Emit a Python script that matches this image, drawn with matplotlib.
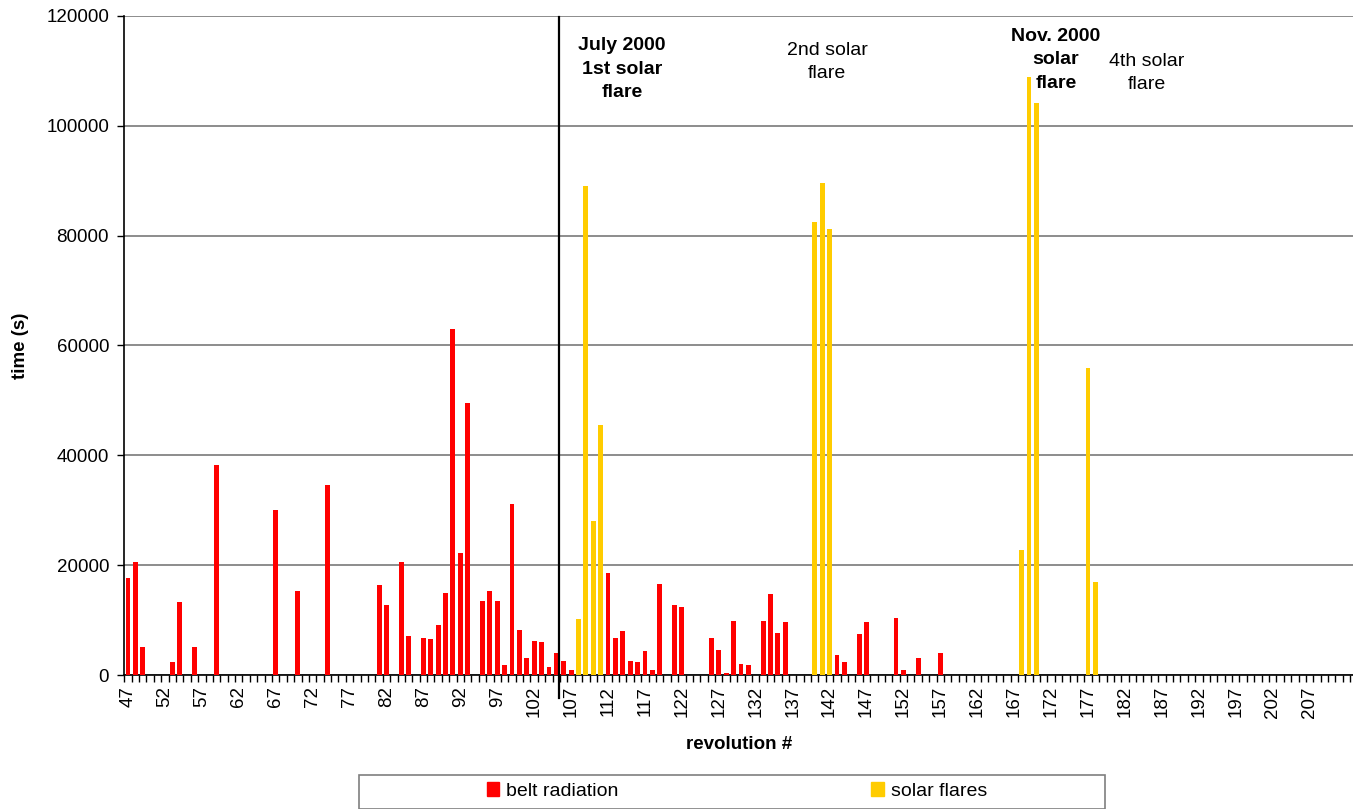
import matplotlib
matplotlib.use("Agg")
import matplotlib.pyplot as plt
from matplotlib.patches import Rectangle, Patch
from matplotlib.ticker import MultipleLocator, FixedLocator

plt.rcParams['font.family'] = ['Liberation Sans', 'DejaVu Sans']

# ---- data ----
first_rev = 47
last_rev = 212
tick_revs = list(range(47, 208, 5))

belt_revs = [47, 48, 49, 53, 54, 56, 59, 67, 70, 74, 81, 82, 84, 85, 87, 88, 89, 90,
             91, 92, 93, 95, 96, 97, 98, 99, 100, 101, 102, 103, 104, 105, 106, 107,
             112, 113, 114, 115, 116, 117, 118, 119, 121, 122, 126, 127, 128, 129,
             130, 131, 133, 134, 135, 136, 143, 144, 146, 147, 151, 152, 154, 157]
belt_vals = [17700, 20600, 5100, 2300, 13300, 5100, 38300, 30000, 15300, 34600,
             16400, 12750, 20600, 7100, 6700, 6550, 9100, 14900,
             63000, 22200, 49500, 13500, 15300, 13500, 1800, 31100, 8200, 3100, 6200,
             6000, 1450, 4000, 2550, 900,
             18600, 6700, 8000, 2550, 2350, 4400, 900, 16600, 12750, 12400, 6700,
             4550, 400, 9800, 2000, 1800, 9800, 14750, 7650, 9650, 3650, 2400,
             7450, 9650, 10400, 900, 3100, 4000]

flare_revs = [108, 109, 110, 111, 140, 141, 142, 168, 169, 170, 177, 178]
flare_vals = [10200, 89100, 28000, 45500, 82500, 89600, 81200, 22800, 108900,
              104200, 55900, 16900]

marker_rev = 105.3

W, H = 1353, 809
fig = plt.figure(figsize=(W / 100, H / 100), dpi=100)
ax_left, ax_right, ax_top, ax_bottom = 124.3, 1353, 16, 675
ax = fig.add_axes([ax_left / W, (H - ax_bottom) / H,
                   (ax_right - ax_left) / W, (ax_bottom - ax_top) / H])

bw = 0.66
ax.bar(belt_revs, belt_vals, width=bw, color='#FF0000', zorder=3, label='belt radiation')
ax.bar(flare_revs, flare_vals, width=bw, color='#FFCC00', zorder=3, label='solar flares')

n_cats = (ax_right - ax_left) / 7.385
ax.set_xlim(first_rev - 0.5, first_rev - 0.5 + n_cats)
ax.set_ylim(0, 120000)

ax.yaxis.set_major_locator(MultipleLocator(20000))
ax.grid(axis='y', color='#6e6e6e', linewidth=1.1, zorder=0)
ax.set_axisbelow(True)

ax.xaxis.set_major_locator(FixedLocator(tick_revs))
ax.xaxis.set_minor_locator(FixedLocator([r - 0.5 for r in range(first_rev, last_rev + 2)]))
ax.set_xticklabels([str(r) for r in tick_revs], rotation=90, fontsize=13.5)
ax.tick_params(axis='x', which='major', length=0, pad=8)
ax.tick_params(axis='x', which='minor', length=5, width=1, color='black', direction='out')
ax.tick_params(axis='y', which='major', length=5, width=1, labelsize=13.5, pad=6)

for s in ['top', 'right']:
    ax.spines[s].set_visible(False)
for s in ['left', 'bottom']:
    ax.spines[s].set_color('black')
    ax.spines[s].set_linewidth(1.2)

ax.set_ylabel('time (s)', fontsize=13.5, fontweight='bold', labelpad=12)
ax.set_xlabel('revolution #', fontsize=13.5, fontweight='bold', labelpad=13)

# vertical marker line
ax.plot([marker_rev, marker_rev], [-0.035, 0.9985], color='black', lw=1.6,
        transform=ax.get_xaxis_transform(), clip_on=False, zorder=5)

def ftext(x, y, s, bold):
    fig.text(x / W, 1 - y / H, s, ha='center', va='center', multialignment='center',
             fontsize=14, fontweight='bold' if bold else 'normal', linespacing=1.5)

ftext(622, 69, 'July 2000\n1st solar\nflare', True)
ftext(827, 62, '2nd solar\nflare', False)
ftext(1056, 60, 'Nov. 2000\nsolar\nflare', True)
ftext(1147, 73, '4th solar\nflare', False)

# legend
fig.patches.append(Rectangle((359 / W, 0), (1105 - 359) / W, (H - 775) / H,
                             transform=fig.transFigure, facecolor='white',
                             edgecolor='#7f7f7f', linewidth=1.2))
handles = [Patch(color='#FF0000', label='belt radiation'),
           Patch(color='#FFCC00', label='solar flares')]
fig.legend(handles=handles, loc='center', bbox_to_anchor=(737 / W, 1 - 791 / H),
           ncol=2, frameon=False, fontsize=14, handlelength=0.65, handleheight=0.7,
           handletextpad=0.35, columnspacing=13.0, borderpad=0)

fig.savefig('out.png', dpi=100)
